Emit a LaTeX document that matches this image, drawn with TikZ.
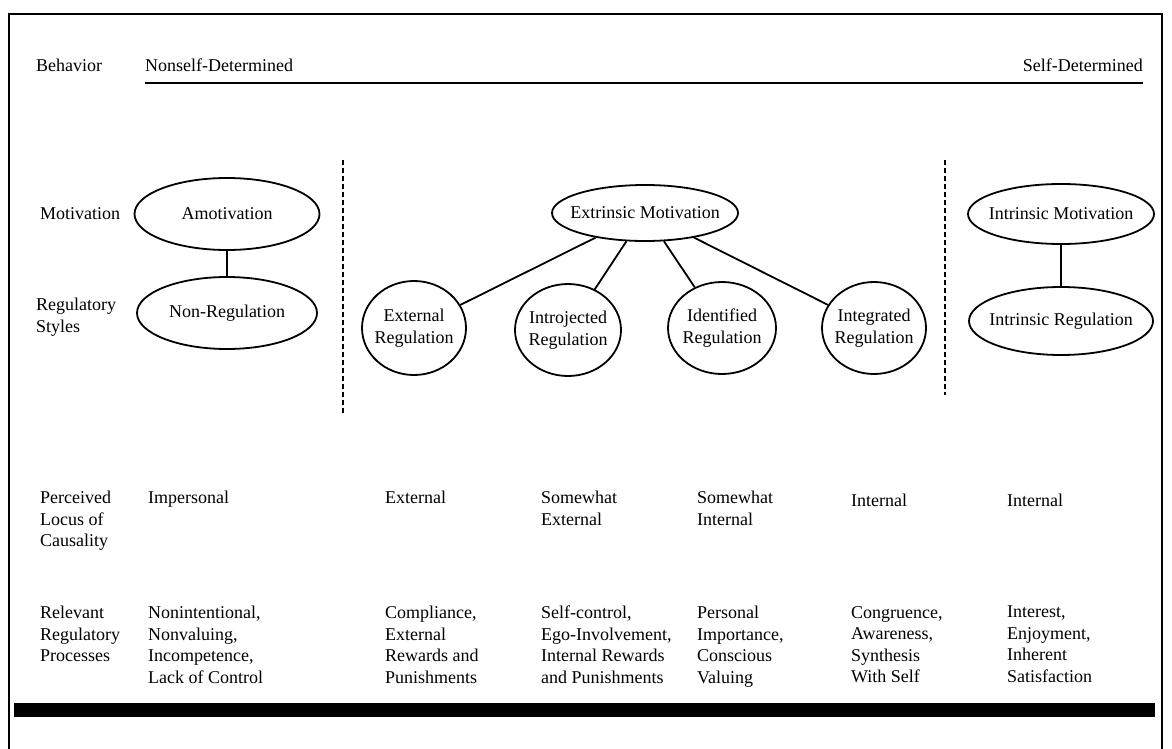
\documentclass[tikz,border=0pt]{standalone}
\usepackage{fontspec}
\setmainfont{Liberation Serif}
\usetikzlibrary{shapes,positioning}

\begin{document}
\begin{tikzpicture}[
    x=1pt, y=-1pt,
    every node/.style={font=\fontsize{18}{21.5}\selectfont},
    rowtext/.style={anchor=north west, inner sep=0pt, align=left},
    motive/.style={ellipse, draw, line width=1.8pt, inner xsep=-25pt, inner ysep=-15pt, align=center},
    link/.style={line width=1.8pt},
    divider/.style={line width=1.4pt, dash pattern=on 5pt off 3pt}
]
\useasboundingbox (0,0) rectangle (1172,749);

% Frame
\draw[line width=2.8pt] (9,749) -- (9,14) -- (1162,14) -- (1162,749);
\fill (14,703) rectangle (1155,717);

% Behavior row
\node[rowtext] (behavior) at (36,59) {Behavior};
\node[rowtext] (nonself) at (145,59) {Nonself-Determined};
\node[rowtext, anchor=north east] (self) at (1143,59) {Self-Determined};
\coordinate (axisl) at (145,83);
\coordinate (axisr) at (1143,83);
\draw[line width=2.2pt] (axisl) -- (axisr);

% Row labels
\node[rowtext] (motivation) at (40,207) {Motivation};
\node[rowtext] (styles) at (36,298) {Regulatory\\Styles};
\node[rowtext] (locus) at (40,491) {Perceived\\Locus of\\Causality};
\node[rowtext] (processes) at (40,606) {Relevant\\Regulatory\\Processes};

% Dividers
\coordinate (d1t) at (343,160);
\coordinate (d1b) at (343,415);
\coordinate (d2t) at (945,160);
\coordinate (d2b) at (945,395);
\draw[divider] (d1t) -- (d1b);
\draw[divider] (d2t) -- (d2b);

% Amotivation
\node[motive, minimum width=185pt, minimum height=72pt] (amot) at (227,214) {Amotivation};
\node[motive, minimum width=180pt, minimum height=72pt] (nonreg) at (227,313) {Non-Regulation};
\draw[link] (amot) -- (nonreg);

% Extrinsic motivation
\node[motive, minimum width=186pt, minimum height=56pt] (extr) at (645,213) {Extrinsic Motivation};
\node[motive, minimum width=104pt, minimum height=94pt] (external) at (414,328) {External\\Regulation};
\node[motive, minimum width=106pt, minimum height=92pt] (introj) at (568,330) {Introjected\\Regulation};
\node[motive, minimum width=108pt, minimum height=92pt] (ident) at (722,328) {Identified\\Regulation};
\node[motive, minimum width=104pt, minimum height=92pt] (integ) at (874,328) {Integrated\\Regulation};
\draw[link] (extr) -- (external);
\draw[link] (extr) -- (introj);
\draw[link] (extr) -- (ident);
\draw[link] (extr) -- (integ);

% Intrinsic motivation
\node[motive, minimum width=186pt, minimum height=60pt] (intrmot) at (1061,214) {Intrinsic Motivation};
\node[motive, minimum width=184pt, minimum height=68pt] (intrreg) at (1061,321) {Intrinsic Regulation};
\draw[link] (intrmot) -- (intrreg);

% Locus of causality
\node[rowtext] (lamot) at (148,491) {Impersonal};
\node[rowtext] (lext) at (385,491) {External};
\node[rowtext] (lintroj) at (541,491) {Somewhat\\External};
\node[rowtext] (lident) at (697,491) {Somewhat\\Internal};
\node[rowtext] (linteg) at (851,494) {Internal};
\node[rowtext] (lintr) at (1007,494) {Internal};

% Regulatory processes
\node[rowtext] (pamot) at (148,606) {Nonintentional,\\Nonvaluing,\\Incompetence,\\Lack of Control};
\node[rowtext] (pext) at (385,606) {Compliance,\\External\\Rewards and\\Punishments};
\node[rowtext] (pintroj) at (541,606) {Self-control,\\Ego-Involvement,\\Internal Rewards\\and Punishments};
\node[rowtext] (pident) at (697,606) {Personal\\Importance,\\Conscious\\Valuing};
\node[rowtext] (pinteg) at (851,606) {Congruence,\\Awareness,\\Synthesis\\With Self};
\node[rowtext] (pintr) at (1007,606) {Interest,\\Enjoyment,\\Inherent\\Satisfaction};

\end{tikzpicture}
\end{document}
